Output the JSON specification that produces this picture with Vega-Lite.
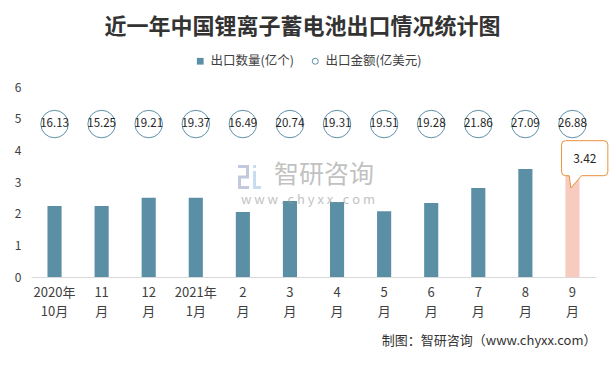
{
  "$schema": "https://vega.github.io/schema/vega-lite/v6.json",
  "width": 565,
  "height": 190,
  "autosize": {"type": "none"},
  "padding": {"left": 31, "top": 87, "right": 20, "bottom": 91},
  "background": "white",
  "title": {
    "text": "近一年中国锂离子蓄电池出口情况统计图",
    "font": "Noto Sans CJK SC",
    "fontSize": 22,
    "fontWeight": "bold",
    "color": "#333333",
    "anchor": "middle",
    "dx": -11,
    "offset": 16
  },
  "config": {
    "view": {"stroke": null},
    "font": "Noto Sans CJK SC",
    "axisY": {
      "title": null,
      "labelOverlap": false,
      "domain": false,
      "ticks": false,
      "grid": false,
      "labelFontSize": 12,
      "labelColor": "#404040",
      "labelPadding": 10
    }
  },
  "datasets": {
    "wm": [{"name": "智研咨询"}]
  },
  "data": {
    "values": [
      {"month": "2020年10月", "qty": 2.24, "amt": 16.13},
      {"month": "11月", "qty": 2.24, "amt": 15.25},
      {"month": "12月", "qty": 2.5, "amt": 19.21},
      {"month": "2021年1月", "qty": 2.5, "amt": 19.37},
      {"month": "2月", "qty": 2.05, "amt": 16.49},
      {"month": "3月", "qty": 2.4, "amt": 20.74},
      {"month": "4月", "qty": 2.37, "amt": 19.31},
      {"month": "5月", "qty": 2.08, "amt": 19.51},
      {"month": "6月", "qty": 2.34, "amt": 19.28},
      {"month": "7月", "qty": 2.81, "amt": 21.86},
      {"month": "8月", "qty": 3.41, "amt": 27.09},
      {"month": "9月", "qty": 3.42, "amt": 26.88}
    ]
  },
  "encoding": {
    "x": {
      "field": "month",
      "type": "nominal",
      "sort": null,
      "scale": {"paddingInner": 0.7, "paddingOuter": 0.35},
      "axis": {
        "title": "制图：智研咨询（www.chyxx.com）",
        "titleAnchor": "end",
        "titleFont": "Noto Sans CJK SC",
        "titleFontSize": 13,
        "titleFontWeight": "normal",
        "titleColor": "#333333",
        "titlePadding": 16,
        "labelAngle": 0,
        "labelFontSize": 13,
        "labelColor": "#404040",
        "labelPadding": 9,
        "labelLineHeight": 19,
        "ticks": false,
        "domainColor": "#d9d9d9",
        "labelExpr": "indexof(datum.value,'年')>0 ? [slice(datum.value,0,indexof(datum.value,'年')+1), slice(datum.value,indexof(datum.value,'年')+1)] : [slice(datum.value,0,-1),'月']"
      }
    }
  },
  "layer": [
    {
      "mark": {"type": "bar"},
      "encoding": {
        "y": {
          "field": "qty",
          "type": "quantitative",
          "scale": {"domain": [0, 6], "nice": false},
          "axis": {"title": null, "values": [0, 1, 2, 3, 4, 5, 6]}
        },
        "fill": {
          "condition": {"test": "datum.month === '9月'", "value": "#f8cbbf"},
          "datum": "出口数量(亿个)",
          "scale": {"range": ["#5b8fa6"]},
          "legend": {
            "orient": "none",
            "legendX": 163,
            "legendY": -32,
            "title": null,
            "symbolType": "square",
            "symbolSize": 45,
            "labelFontSize": 12.5,
            "labelColor": "#404040",
            "labelOffset": 4,
            "padding": 0
          }
        }
      }
    },
    {
      "data": {"name": "wm"},
      "mark": {"type": "text", "fontSize": 25, "fill": "#999999", "opacity": 0.6, "dx": -13},
      "encoding": {
        "x": {"datum": "4月"},
        "y": {"datum": 3.22, "type": "quantitative", "axis": {"title": null, "values": [0, 1, 2, 3, 4, 5, 6]}},
        "text": {"field": "name"}
      }
    },
    {
      "data": {"name": "wm"},
      "mark": {"type": "text", "fontSize": 13, "fill": "#999999", "opacity": 0.6, "dx": -29},
      "encoding": {
        "x": {"datum": "4月"},
        "y": {"datum": 2.42, "type": "quantitative", "axis": {"title": null, "values": [0, 1, 2, 3, 4, 5, 6]}},
        "text": {"value": "w w w . c h y x x . c o m"}
      }
    },
    {
      "data": {"name": "wm"},
      "mark": {
        "type": "point",
        "shape": "M-99,-12 L-88,-12 L-88,1.5 L-96,1.5 L-96,9 L-88,9 L-88,12 L-99,12 L-99,-1.5 L-91,-1.5 L-91,-9 L-99,-9 Z",
        "size": 4,
        "filled": true,
        "fill": "#c3c9dd",
        "strokeWidth": 0,
        "opacity": 1
      },
      "encoding": {
        "x": {"datum": "4月"},
        "y": {"datum": 3.16, "type": "quantitative", "axis": {"title": null, "values": [0, 1, 2, 3, 4, 5, 6]}}
      }
    },
    {
      "data": {"name": "wm"},
      "mark": {
        "type": "point",
        "shape": "M-84,-12 L-81,-12 L-81,-9 L-84,-9 Z M-84,-6 L-81,-6 L-81,9 L-76,9 L-76,12 L-84,12 Z",
        "size": 4,
        "filled": true,
        "fill": "#c6dcf0",
        "strokeWidth": 0,
        "opacity": 1
      },
      "encoding": {
        "x": {"datum": "4月"},
        "y": {"datum": 3.16, "type": "quantitative", "axis": {"title": null, "values": [0, 1, 2, 3, 4, 5, 6]}}
      }
    },
    {
      "mark": {"type": "point", "filled": false, "size": 755, "strokeWidth": 1, "opacity": 1},
      "encoding": {
        "y": {"datum": 4.83, "type": "quantitative", "axis": {"title": null, "values": [0, 1, 2, 3, 4, 5, 6]}},
        "stroke": {
          "datum": "出口金额(亿美元)",
          "scale": {"range": ["#5d90a8"]},
          "legend": {
            "orient": "none",
            "legendX": 278,
            "legendY": -32,
            "title": null,
            "symbolType": "circle",
            "symbolSize": 36,
            "symbolStrokeWidth": 1,
            "symbolFillColor": "white",
            "labelFontSize": 12.5,
            "labelColor": "#404040",
            "labelOffset": 4,
            "padding": 0
          }
        }
      }
    },
    {
      "mark": {"type": "text", "fontSize": 11.5, "fill": "#262626"},
      "encoding": {
        "y": {"datum": 4.83, "type": "quantitative", "axis": {"title": null, "values": [0, 1, 2, 3, 4, 5, 6]}},
        "text": {"field": "amt", "type": "quantitative", "format": ".2f"}
      }
    },
    {
      "transform": [{"filter": "datum.month === '9月'"}],
      "mark": {
        "type": "point",
        "shape": "M-6.9,-28 L31.4,-28 Q35.4,-28 35.4,-24 L35.4,3 Q35.4,7 31.4,7 L9.1,7 L-1.6,19.3 L-3.3,7 L-6.9,7 Q-10.9,7 -10.9,3 L-10.9,-24 Q-10.9,-28 -6.9,-28 Z",
        "size": 4,
        "filled": true,
        "fill": "white",
        "stroke": "#e8923a",
        "strokeWidth": 1,
        "opacity": 1
      },
      "encoding": {
        "y": {"field": "qty", "type": "quantitative", "axis": {"title": null, "values": [0, 1, 2, 3, 4, 5, 6]}}
      }
    },
    {
      "transform": [{"filter": "datum.month === '9月'"}],
      "mark": {"type": "text", "fontSize": 12, "fill": "#262626", "dx": 12.4, "dy": -10.2},
      "encoding": {
        "y": {"field": "qty", "type": "quantitative", "axis": {"title": null, "values": [0, 1, 2, 3, 4, 5, 6]}},
        "text": {"field": "qty", "type": "quantitative", "format": ".2f"}
      }
    }
  ]
}
